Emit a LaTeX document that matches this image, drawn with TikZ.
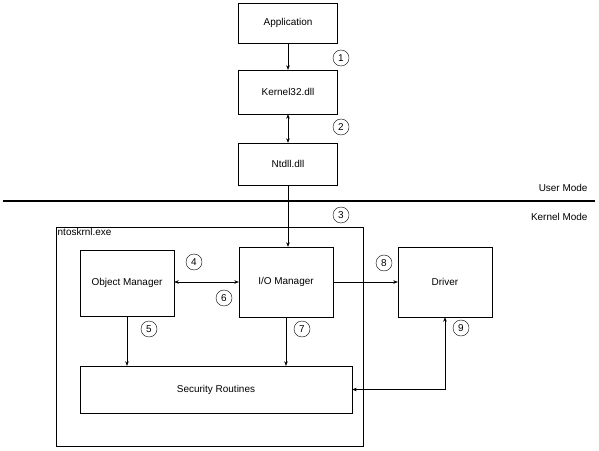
\documentclass[tikz,border=0pt]{standalone}
\usepackage{fontspec}
\setmainfont{Liberation Sans}
\usetikzlibrary{positioning, arrows.meta}

\begin{document}
\begin{tikzpicture}[x=1bp, y=-1bp, font=\fontsize{10}{12}\selectfont,
        box/.style={draw, inner sep=0pt},
        step num/.style={draw, circle, minimum size=16bp, inner sep=0pt},
        >={Stealth[length=4.5bp, width=3.5bp]}]
    \useasboundingbox (0,0) rectangle (599,451);
    % user mode part
    \node (app) [box, minimum width=99bp, minimum height=40bp] at (288,23) {Application};
    \node (k32) [box, minimum width=99bp, minimum height=44bp] at (288,92) {Kernel32.dll};
    \node (ntdll) [box, minimum width=99bp, minimum height=42bp] at (288,164) {Ntdll.dll};
    % mode border
    \draw [line width=2bp] (3,201.5) -- (595,201.5);
    \node (um) [anchor=east] at (591,188) {User Mode};
    \node (km) [anchor=east] at (591,217) {Kernel Mode};
    % kernel part
    \draw (56,227) rectangle (363,446);
    \node (exe) [anchor=north west, inner sep=1.5bp] at (56,227) {ntoskrnl.exe};
    \node (obj) [box, minimum width=94bp, minimum height=66bp] at (127,283) {Object Manager};
    \node (io) [box, minimum width=94bp, minimum height=70bp] at (286,282) {I/O Manager};
    \node (drv) [box, minimum width=94bp, minimum height=70bp] at (445,282) {Driver};
    \node (sec) [box, minimum width=272bp, minimum height=47bp] at (216,389.5) {Security Routines};
    % connectors
    \draw [->] (app) -- (k32);
    \draw [<->] (k32) -- (ntdll);
    \draw [->] (ntdll.south) -- (ntdll.south |- io.north);
    \draw [<->] (obj.east |- io.west) -- (io.west);
    \draw [->] (io) -- (drv);
    \draw [->] (obj.south) -- (obj.south |- sec.north);
    \draw [->] (io.south) -- (io.south |- sec.north);
    \draw [<->] (drv.south) |- (sec.east);
    % step numbers
    \foreach \n/\x/\y in {1/341/58, 2/341/127, 3/341/215, 4/194/262, 5/149/329,
            6/224/298, 7/302/329, 8/384/263, 9/461/328}
        \node (n\n) [step num] at (\x,\y) {\n};
\end{tikzpicture}
\end{document}
